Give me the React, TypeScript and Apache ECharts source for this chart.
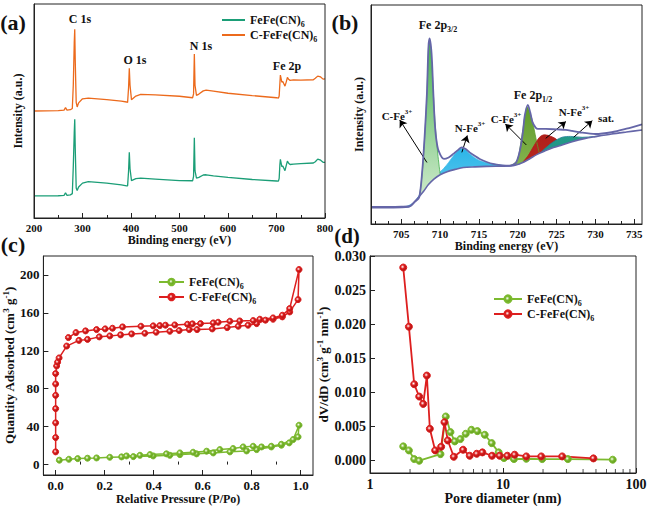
import React, { useEffect, useRef } from "react";
import * as echarts from "echarts";

const FONT = '"Liberation Serif", "Times New Roman", Times, serif';

// ---------------- (a) XPS survey spectra ----------------
const aEnergy = [200, 250, 262, 265, 268, 275, 279, 281, 283, 284, 285, 287, 289, 292, 300, 312, 350, 380, 391, 393,
  395, 396.5, 398, 401, 410, 420, 450, 500, 527, 529, 530.6, 532, 535, 540, 549, 555, 570, 600, 650, 700,
  704, 705.5, 707, 708, 711, 713, 717.5, 720, 722.5, 725, 728, 735, 750, 776, 780, 785, 791, 796, 800];
const aCFeFe = [50.0, 50.2, 50.4, 51.6, 50.4, 50.6, 51.2, 62, 82, 88.2, 74, 54, 51.9, 53.8, 55.7, 56.0, 55.3, 54.6, 54.2, 54.0,
  61, 70.0, 62, 55.3, 57.0, 57.8, 57.5, 56.9, 56.2, 58, 76.6, 62, 57.3, 57.9, 59.4, 59.8, 59.3, 58.3, 57.2, 56.2,
  56.0, 57, 63, 66.8, 63.5, 63.8, 61.6, 63.5, 65.7, 64.8, 64.3, 64.5, 64.4, 64.6, 65.3, 66.3, 65.9, 64.9, 65.0];
const aFeFe = [10.3, 10.4, 10.6, 11.8, 10.6, 10.8, 11.4, 24, 40, 46.1, 33, 14, 12.8, 14.5, 16.3, 17.0, 16.3, 15.5, 15.0, 15.0,
  22, 30.7, 23, 17.5, 18.4, 18.6, 18.2, 17.5, 17.4, 19.5, 37.5, 22, 18.6, 19.0, 20.1, 20.2, 19.7, 19.0, 18.0, 17.3,
  17.2, 18.5, 25, 27.4, 24, 24.3, 22.1, 24.5, 26.6, 25.6, 25.0, 25.2, 25.4, 25.7, 26.3, 27.5, 27.0, 26.0, 26.0];

// ---------------- (b) Fe 2p high-resolution ----------------
const bEnvX = [701.1, 703, 705, 706.2, 706.7, 707.3, 707.7, 708.0, 708.3, 708.5, 708.65, 708.9, 709.1, 709.3, 709.5, 709.8, 710.5, 711.1, 711.7, 712.2,
  712.8, 713.3, 713.8, 714.5, 715.1, 716, 716.8, 718, 718.9, 719.5, 719.8, 720.1, 720.4, 720.7, 720.9, 721.3, 721.6, 721.9, 722.3, 722.6,
  723.6, 725, 726.2, 727, 727.9, 730, 732.1, 734, 736];
const bEnvY = [7.8, 7.8, 7.9, 8.3, 10, 12.1, 24.3, 39.6, 59.5, 80.9, 84.7, 77.8, 62, 47, 39, 33.5, 29.7, 30.4, 32.0, 33.5,
  35.0, 34.2, 32.7, 31, 29.7, 28.3, 27.4, 26.8, 26.6, 27.2, 28.1, 31, 35.8, 43, 49.5, 54.4, 51, 46.5, 44, 43.4,
  43.4, 43.2, 43.0, 42.5, 41.9, 41.1, 41.9, 43.5, 45.5];
const bBgX = [701.1, 704, 706, 706.2, 707, 707.9, 708.5, 709.2, 710, 710.9, 712, 713, 714.5, 716, 719.4, 720.2, 720.8, 721.5, 722.5, 723.6,
  724.6, 725.7, 727, 728.7, 730, 732.1, 734, 736];
const bBgY = [7.5, 7.5, 7.8, 8.3, 11.3, 15.1, 18, 20.5, 22.5, 23.9, 25, 25.8, 26.1, 26.3, 26.6, 27.4, 28.3, 29.7, 31.8, 33.5,
  34.9, 36.1, 37.6, 39.1, 39.9, 41.1, 42, 42.9];
const bCFe32X = [706.4, 707.0, 707.3, 707.7, 708.0, 708.3, 708.5, 708.65, 708.95, 709.2, 709.4, 709.7, 710.0];
const bCFe32Y = [8.2, 10.5, 12, 23.5, 39, 59, 80.5, 84, 72, 55, 44, 32, 22.8];
const bNFe32X = [705.5, 706.5, 707.2, 708, 709, 710, 710.5, 711.1, 711.9, 712.4, 712.8, 713.3, 713.8, 715.1, 716.8, 718, 718.9];
const bNFe32Y = [7.8, 9.5, 12.5, 17, 21.5, 23.8, 25.5, 28.1, 32.0, 33.8, 34.5, 33.8, 32.0, 28.9, 27.4, 26.8, 26.6];
const bCFe12X = [718.9, 719.5, 720.0, 720.4, 720.9, 721.2, 721.7, 722.1, 722.4, 722.8];
const bCFe12Y = [26.6, 27.5, 29.7, 37.3, 48.8, 53.4, 49.5, 43.4, 38.1, 32.0];
const bNFe12X = [720.6, 721.3, 722.1, 722.8, 723.4, 724.0, 724.9, 725.5, 725.8];
const bNFe12Y = [28.1, 31, 35.8, 39.6, 40.7, 40.4, 38.9, 36.6, 36.2];
const bSatX = [722.8, 723.2, 724.5, 725.7, 726.8, 728.3, 730.0, 731];
const bSatY = [32, 33.5, 37.3, 39.6, 40.0, 39.6, 40.0, 40.5];
const bTicks = [705, 710, 715, 720, 725, 730, 735];
const bMinorTicks = [701.67, 703.33, ...bTicks.flatMap((t) => [t + 5 / 3, t + 10 / 3])].filter((v) => v < 736);
// arrows: [tailX, tailY, headX, headY]
const bArrows = [
  [708.3, 28.1, 704.8, 47.5],
  [712.8, 32.7, 713.5, 40.4],
  [721.1, 36.1, 718.4, 45.7],
  [723.6, 39.1, 726.2, 46.8],
  [727.2, 39.6, 729.6, 47.2],
];

// ---------------- (c) N2 isotherms ----------------
const cCFeX = [0.0, 0.0, 0.0, 0.0, 0.0, 0.0, 0.0, 0.004, 0.008, 0.014, 0.045, 0.095, 0.13, 0.178, 0.221, 0.265, 0.31, 0.364, 0.41, 0.466,
  0.504, 0.545, 0.577, 0.639, 0.7, 0.745, 0.785, 0.82, 0.856, 0.887, 0.925, 0.955, 0.989, 0.993,
  0.955, 0.925, 0.887, 0.833, 0.806, 0.751, 0.711, 0.663, 0.643, 0.591, 0.558, 0.538, 0.486, 0.448, 0.425, 0.398,
  0.348, 0.273, 0.232, 0.202, 0.167, 0.122, 0.083, 0.052];
const cCFeY = [13.4, 28.5, 44, 59, 73, 85, 96, 104, 108, 112.5, 125, 131, 132, 134.7, 135.7, 136.8, 137.8, 138.5, 139.6, 140.6,
  141.4, 142.4, 142.4, 143.1, 144.5, 145.9, 147, 148.7, 152.3, 153.3, 155.8, 161, 174, 205.7,
  164.6, 157.5, 154.7, 153.3, 151.9, 151.5, 151.2, 150.1, 149.4, 148.7, 148.4, 148, 147.3, 147, 146.6, 146.3,
  145.9, 145.2, 143.8, 143.1, 142.4, 141, 139.2, 134];
const cFeX = [0.015, 0.054, 0.09, 0.13, 0.167, 0.221, 0.269, 0.317, 0.398, 0.466, 0.507, 0.575, 0.643, 0.711, 0.779, 0.82, 0.88, 0.921, 0.953, 0.989, 0.993,
  0.969, 0.921, 0.88, 0.84, 0.806, 0.765, 0.724, 0.67, 0.616, 0.561, 0.507, 0.452, 0.385, 0.344, 0.289];
const cFeY = [4.6, 5.6, 6.3, 6.7, 7.0, 7.7, 8.1, 8.4, 9.1, 9.8, 10.5, 11.3, 12.3, 13.4, 14.4, 15.8, 18.6, 20.4, 22.9, 29.2, 41.5,
  26.4, 21.4, 19.3, 18.6, 19.3, 18.6, 16.9, 15.8, 14.1, 13.0, 12.3, 11.3, 10.5, 9.8, 9.1];
const cXTicks = [0, 0.2, 0.4, 0.6, 0.8, 1.0];
const cXMinor = [0.1, 0.3, 0.5, 0.7, 0.9];
const cYTicks = [0, 40, 80, 120, 160, 200];

// ---------------- (d) pore size distribution ----------------
const dCFeX = [1.778, 1.961, 2.15, 2.344, 2.512, 2.676, 2.818, 3.09, 3.428, 3.631, 3.846, 4.266, 5.012, 5.623, 6.346, 6.998, 8.272, 9.441, 10.78, 12.23, 14.96, 19.39, 27.86, 47.86];
const dCFeY = [0.02831, 0.01964, 0.01121, 0.0094, 0.00833, 0.01248, 0.00468, 0.00151, 0.00205, 0.00565, 0.00297, 0.00058, 0.00161, 0.00073, 0.00102, 0.00122, 0.00073, 0.00073, 0.00073, 0.00088, 0.00063, 0.00063, 0.00063, 0.00034];
const dFeX = [1.778, 1.961, 2.15, 2.344, 3.388, 3.715, 4.027, 4.341, 4.786, 5.248, 5.789, 6.42, 7.29, 8.222, 9.279, 10.17, 12.09, 14.96, 19.72, 30.73, 66.83];
const dFeY = [0.0021, 0.00151, 0.00024, 0.0, 0.00097, 0.00648, 0.00419, 0.00283, 0.00317, 0.00395, 0.00453, 0.00434, 0.0038, 0.00258, 0.00122, 0.00039, 0.00024, 0.00029, 0.00024, 0.00024, 0.00015];
const dYTicks = [0, 0.005, 0.01, 0.015, 0.02, 0.025, 0.03];
const dMinorTicks = [2, 3, 4, 5, 6, 7, 8, 9, 20, 30, 40, 50, 60, 70, 80, 90];
const D_YMIN = -0.0018;

const zip = (xs: number[], ys: number[]) => xs.map((x, i) => [x, ys[i]]);

const mkRich = (fs: number, color = "#111") => {
  const s = Math.round(fs * 0.68);
  return {
    n: { fontFamily: FONT, fontWeight: "bold", fontSize: fs, lineHeight: fs + 4, color },
    sub: { fontFamily: FONT, fontWeight: "bold", fontSize: s, lineHeight: s + 1, verticalAlign: "bottom", color },
    sup: { fontFamily: FONT, fontWeight: "bold", fontSize: s, lineHeight: s + 1, verticalAlign: "top", color },
  };
};

const GREEN_A = "#1b9e77";
const ORANGE_A = "#ec6a1c";
const GREEN = "#7cba2f";
const RED = "#dd1f1f";
const ENV = "#6566a8";

const ball = (c: string, dark: string) =>
  new echarts.graphic.RadialGradient(0.4, 0.4, 0.6, [
    { offset: 0, color: "#ffffff" },
    { offset: 0.45, color: c },
    { offset: 1, color: dark },
  ]);

const grad = (top: string, bottom: string) =>
  new echarts.graphic.LinearGradient(0, 0, 0, 1, [
    { offset: 0, color: top },
    { offset: 1, color: bottom },
  ]);

const axisBase = (fs: number) => ({
  axisLine: { show: true, onZero: false, lineStyle: { color: "#222", width: 1 } },
  axisTick: { show: true, inside: true, length: 5, lineStyle: { color: "#222" } },
  axisLabel: { fontFamily: FONT, fontWeight: "bold", fontSize: fs, color: "#111", margin: 4 },
  splitLine: { show: false },
  nameLocation: "middle",
  z: 7,
});

const nameStyle = (fs: number) => ({ fontFamily: FONT, fontWeight: "bold", fontSize: fs, color: "#111", rich: mkRich(fs) });

const legendFmt: Record<string, string> = {
  aFe: "{n|FeFe(CN)}{sub|6}",
  aCFe: "{n|C-FeFe(CN)}{sub|6}",
  cFe: "{n|FeFe(CN)}{sub|6}",
  cCFe: "{n|C-FeFe(CN)}{sub|6}",
  dFe: "{n|FeFe(CN)}{sub|6}",
  dCFe: "{n|C-FeFe(CN)}{sub|6}",
};

const txt = (x: number, y: number, text: string, fs = 12) => ({
  type: "text",
  x,
  y,
  z: 20,
  style: { text, rich: mkRich(fs), align: "center", verticalAlign: "middle", font: `bold ${fs}px ${FONT}`, fill: "#111" },
});

function buildOption() {
  const compArea = (name: string, xs: number[], ys: number[], fill: any, line: string, z: number) => ({
    type: "line",
    name,
    xAxisIndex: 1,
    yAxisIndex: 1,
    data: zip(xs, ys),
    symbol: "none",
    smooth: 0.3,
    lineStyle: { color: line, width: 0.8 },
    areaStyle: { color: fill, opacity: 1, origin: "start" },
    z,
    silent: true,
  });

  return {
    animation: false,
    backgroundColor: "#fff",
    grid: [
      { left: 34, top: 4, width: 291, height: 214, show: true, borderColor: "#222", borderWidth: 1, z: 7 },
      { left: 371, top: 5, width: 271, height: 219, show: true, borderColor: "#222", borderWidth: 1, z: 7 },
      { left: 43, top: 256, width: 270, height: 219, show: true, borderColor: "#222", borderWidth: 1, z: 7 },
      { left: 370, top: 256, width: 266, height: 217, show: true, borderColor: "#222", borderWidth: 1, z: 7 },
    ],
    xAxis: [
      {
        ...axisBase(11), gridIndex: 0, type: "value", min: 200, max: 800, interval: 100,
        minorTick: { show: true, splitNumber: 2, length: 3, lineStyle: { color: "#222" } },
        minorSplitLine: { show: false },
        name: "Binding energy (eV)", nameGap: 16, nameTextStyle: nameStyle(12),
      },
      {
        ...axisBase(11), gridIndex: 1, type: "value", min: 701.1, max: 736,
        axisTick: { show: true, inside: true, length: 5, customValues: bTicks, lineStyle: { color: "#222" } },
        axisLabel: { ...axisBase(11).axisLabel, customValues: bTicks },
        name: "Binding energy (eV)", nameGap: 16, nameTextStyle: nameStyle(12),
      },
      {
        gridIndex: 1, type: "value", min: 701.1, max: 736, position: "bottom", z: 7,
        axisLine: { show: false }, axisLabel: { show: false }, splitLine: { show: false },
        axisTick: { show: true, inside: true, length: 3, customValues: bMinorTicks, lineStyle: { color: "#222" } },
      },
      {
        ...axisBase(13), gridIndex: 2, type: "value", min: -0.05, max: 1.05,
        axisTick: { show: true, inside: true, length: 5, customValues: cXTicks, lineStyle: { color: "#222" } },
        axisLabel: { ...axisBase(13).axisLabel, customValues: cXTicks, formatter: (v: number) => v.toFixed(1) },
        name: "Relative Pressure (P/Po)", nameGap: 17, nameTextStyle: nameStyle(12),
      },
      {
        gridIndex: 2, type: "value", min: -0.05, max: 1.05, position: "bottom", z: 7,
        axisLine: { show: false }, axisLabel: { show: false }, splitLine: { show: false },
        axisTick: { show: true, inside: true, length: 3, customValues: cXMinor, lineStyle: { color: "#222" } },
      },
      {
        ...axisBase(14), gridIndex: 3, type: "log", logBase: 10, min: 1, max: 100,
        name: "Pore diameter (nm)", nameGap: 18, nameTextStyle: nameStyle(14),
      },
    ],
    yAxis: [
      {
        ...axisBase(11), gridIndex: 0, type: "value", min: 0, max: 100,
        axisTick: { show: false }, axisLabel: { show: false },
        name: "Intensity (a.u.)", nameGap: 10, nameTextStyle: nameStyle(12),
      },
      {
        ...axisBase(11), gridIndex: 1, type: "value", min: 0, max: 100,
        axisTick: { show: false }, axisLabel: { show: false },
        name: "Intensity (a.u.)", nameGap: 6, nameTextStyle: nameStyle(12),
      },
      {
        ...axisBase(13), gridIndex: 2, type: "value", min: -11, max: 220,
        axisTick: { show: true, inside: true, length: 5, customValues: cYTicks, lineStyle: { color: "#222" } },
        axisLabel: { ...axisBase(13).axisLabel, customValues: cYTicks },
        name: "{n|Quantity Adsorbed (cm}{sup|3}{n| g}{sup|-1}{n|)}", nameGap: 24, nameTextStyle: nameStyle(13),
      },
      {
        ...axisBase(14), gridIndex: 3, type: "value", min: D_YMIN, max: 0.03,
        axisTick: { show: true, inside: true, length: 5, customValues: dYTicks, lineStyle: { color: "#222" } },
        axisLabel: { ...axisBase(14).axisLabel, customValues: dYTicks, formatter: (v: number) => v.toFixed(3) },
        name: "{n|dV/dD (cm}{sup|3}{n| g}{sup|-1}{n| nm}{sup|-1}{n|)}", nameGap: 38, nameTextStyle: nameStyle(13),
      },
    ],
    legend: [
      {
        left: 217, top: 9, orient: "vertical", itemGap: 1, itemWidth: 23, itemHeight: 2, icon: "rect",
        data: ["aFe", "aCFe"], formatter: (n: string) => legendFmt[n], textStyle: { rich: mkRich(12) },
        selectedMode: false,
      },
      {
        left: 153, top: 271, orient: "vertical", itemGap: 1, itemWidth: 25, itemHeight: 8,
        data: ["cFe", "cCFe"], formatter: (n: string) => legendFmt[n], textStyle: { rich: mkRich(12) },
        selectedMode: false,
      },
      {
        left: 488, top: 288, orient: "vertical", itemGap: 1, itemWidth: 28, itemHeight: 9,
        data: ["dFe", "dCFe"], formatter: (n: string) => legendFmt[n], textStyle: { rich: mkRich(12) },
        selectedMode: false,
      },
    ],
    series: [
      // (a)
      { type: "line", name: "aFe", xAxisIndex: 0, yAxisIndex: 0, data: zip(aEnergy, aFeFe), symbol: "none", lineStyle: { color: GREEN_A, width: 1.3 }, itemStyle: { color: GREEN_A } },
      { type: "line", name: "aCFe", xAxisIndex: 0, yAxisIndex: 0, data: zip(aEnergy, aCFeFe), symbol: "none", lineStyle: { color: ORANGE_A, width: 1.3 }, itemStyle: { color: ORANGE_A } },
      // (b) component peaks
      compArea("N-Fe3+ 2p3/2", bNFe32X, bNFe32Y, grad("#2cb5e8", "#7dd6f2"), "#39b9e8", 2),
      compArea("C-Fe3+ 2p3/2", bCFe32X, bCFe32Y, grad("#49b253", "#e3f3de"), "#42b04c", 3),
      compArea("C-Fe3+ 2p1/2", bCFe12X, bCFe12Y, grad("#5e9a2a", "#a9cc72"), "#5e9a2a", 3),
      compArea("N-Fe3+ 2p1/2", bNFe12X, bNFe12Y, grad("#b01f1a", "#c83a2a"), "#b01f1a", 3),
      compArea("sat.", bSatX, bSatY, grad("#239b86", "#1a6f98"), "#1e7f94", 4),
      {
        type: "line", name: "bgCover", xAxisIndex: 1, yAxisIndex: 1, data: zip(bBgX, bBgY), symbol: "none", smooth: 0.3,
        lineStyle: { width: 0 }, areaStyle: { color: "#ffffff", opacity: 1, origin: "start" }, z: 5, silent: true,
      },
      {
        type: "line", name: "Background", xAxisIndex: 1, yAxisIndex: 1, data: zip(bBgX, bBgY), symbol: "none", smooth: 0.3,
        lineStyle: { color: ENV, width: 1.6 }, z: 6, silent: true,
      },
      {
        type: "line", name: "Envelope", xAxisIndex: 1, yAxisIndex: 1, data: zip(bEnvX, bEnvY), symbol: "none", smooth: 0.3,
        lineStyle: { color: ENV, width: 1.8 }, z: 6, silent: true,
        markLine: {
          silent: true, symbol: ["none", "arrow"], symbolSize: 7, label: { show: false },
          lineStyle: { color: "#000", width: 1, type: "solid" },
          data: bArrows.map((a) => [{ coord: [a[0], a[1]] }, { coord: [a[2], a[3]] }]),
        },
      },
      // (c)
      {
        type: "line", name: "cFe", xAxisIndex: 3, yAxisIndex: 2, data: zip(cFeX, cFeY), symbol: "circle", symbolSize: 6,
        lineStyle: { color: GREEN, width: 1.5 }, itemStyle: { color: ball(GREEN, "#5e9a1d"), borderColor: GREEN, borderWidth: 1 },
      },
      {
        type: "line", name: "cCFe", xAxisIndex: 3, yAxisIndex: 2, data: zip(cCFeX, cCFeY), symbol: "circle", symbolSize: 6,
        lineStyle: { color: RED, width: 1.5 }, itemStyle: { color: ball(RED, "#a51010"), borderColor: RED, borderWidth: 1 },
      },
      // (d)
      {
        type: "line", name: "dFe", xAxisIndex: 5, yAxisIndex: 3, data: zip(dFeX, dFeY), symbol: "circle", symbolSize: 7,
        lineStyle: { color: GREEN, width: 1.8 }, itemStyle: { color: ball(GREEN, "#5e9a1d"), borderColor: GREEN, borderWidth: 1 },
      },
      {
        type: "line", name: "dCFe", xAxisIndex: 5, yAxisIndex: 3, data: zip(dCFeX, dCFeY), symbol: "circle", symbolSize: 7,
        lineStyle: { color: RED, width: 1.8 }, itemStyle: { color: ball(RED, "#a51010"), borderColor: RED, borderWidth: 1 },
      },
      {
        type: "scatter", name: "dMinor", xAxisIndex: 5, yAxisIndex: 3, data: dMinorTicks.map((v) => [v, D_YMIN]),
        symbol: "rect", symbolSize: [1, 4], symbolOffset: [0, -2], itemStyle: { color: "#222" }, silent: true, z: 7, clip: false,
      },
    ],
    graphic: [
      txt(13, 22, "(a)", 22),
      txt(345, 22, "(b)", 22),
      txt(13, 244, "(c)", 22),
      txt(347, 236, "(d)", 21),
      txt(80, 19, "C 1s"),
      txt(135, 60, "O 1s"),
      txt(201, 46, "N 1s"),
      txt(287, 66, "Fe 2p"),
      txt(438, 25, "{n|Fe 2p}{sub|3/2}"),
      txt(533, 95, "{n|Fe 2p}{sub|1/2}"),
      txt(397, 116, "{n|C-Fe}{sup|3+}", 11),
      txt(470, 128, "{n|N-Fe}{sup|3+}", 11),
      txt(506, 119, "{n|C-Fe}{sup|3+}", 11),
      txt(574, 112, "{n|N-Fe}{sup|3+}", 11),
      txt(606, 118, "sat.", 11),
    ],
  };
}

export default function App() {
  const ref = useRef<HTMLDivElement>(null);
  useEffect(() => {
    if (!ref.current) return;
    const chart = echarts.init(ref.current, null, { renderer: "svg" });
    chart.setOption(buildOption() as any);
    return () => chart.dispose();
  }, []);
  return (
    <div
      ref={ref}
      style={{ position: "fixed", left: 0, top: 0, width: 652, height: 509, background: "#fff" }}
    />
  );
}
